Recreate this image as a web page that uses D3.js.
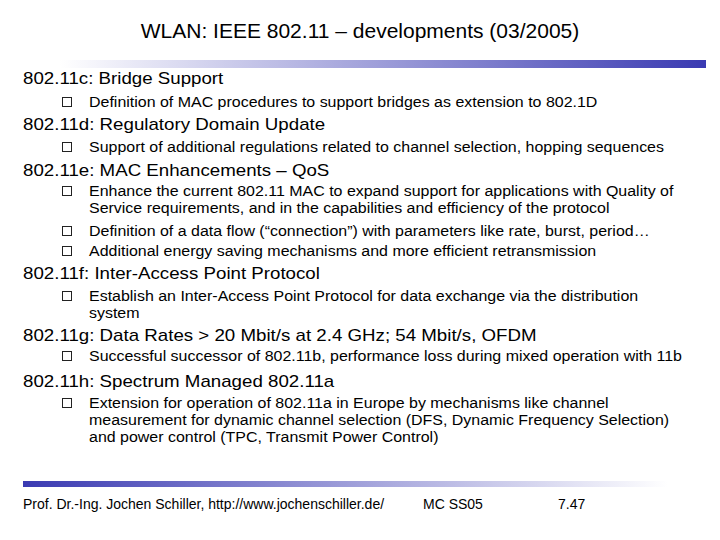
<!DOCTYPE html><html><head><meta charset="utf-8">
<script src="https://cdn.jsdelivr.net/npm/d3@7"></script>
<style>body{margin:0;background:#fff}text{font-family:"Liberation Sans",Arial,sans-serif;fill:#000}</style></head><body>
<script>
const title = "WLAN: IEEE 802.11 – developments (03/2005)";
const headings = ["802.11c: Bridge Support","802.11d: Regulatory Domain Update","802.11e: MAC Enhancements – QoS","802.11f: Inter-Access Point Protocol","802.11g: Data Rates > 20 Mbit/s at 2.4 GHz; 54 Mbit/s, OFDM","802.11h: Spectrum Managed 802.11a"];
const headingY = [84,130,176,279,341,387];
const bullets = [
 {lines:["Definition of MAC procedures to support bridges as extension to 802.1D"], y:107},
 {lines:["Support of additional regulations related to channel selection, hopping sequences"], y:152},
 {lines:["Enhance the current 802.11 MAC to expand support for applications with Quality of","Service requirements, and in the capabilities and efficiency of the protocol"], y:196},
 {lines:["Definition of a data flow (“connection”) with parameters like rate, burst, period…"], y:236},
 {lines:["Additional energy saving mechanisms and more efficient retransmission"], y:256},
 {lines:["Establish an Inter-Access Point Protocol for data exchange via the distribution","system"], y:301},
 {lines:["Successful successor of 802.11b, performance loss during mixed operation with 11b"], y:361},
 {lines:["Extension for operation of 802.11a in Europe by mechanisms like channel","measurement for dynamic channel selection (DFS, Dynamic Frequency Selection)","and power control (TPC, Transmit Power Control)"], y:408}
];
const footer = [["Prof. Dr.-Ing. Jochen Schiller, http://www.jochenschiller.de/",23],["MC SS05",423],["7.47",558]];

const svg = d3.select("body").append("svg").attr("width",720).attr("height",540);
const defs = svg.append("defs");
const g1 = defs.append("linearGradient").attr("id","gt");
g1.append("stop").attr("offset","0").attr("stop-color","#fff");
g1.append("stop").attr("offset","1").attr("stop-color","#3a3ab2");
const g2 = defs.append("linearGradient").attr("id","gb");
g2.append("stop").attr("offset","0").attr("stop-color","#3a3ab2");
g2.append("stop").attr("offset","1").attr("stop-color","#fff");
svg.append("rect").attr("x",60).attr("y",60).attr("width",646).attr("height",8).attr("fill","url(#gt)");
svg.append("rect").attr("x",23).attr("y",481).attr("width",645).attr("height",6).attr("fill","url(#gb)");

function stretch(sel,f){sel.each(function(){const w=this.getComputedTextLength();d3.select(this).attr("textLength",w*f).attr("lengthAdjust","spacingAndGlyphs");});}
stretch(svg.append("text").attr("x",360).attr("y",38).attr("text-anchor","middle").attr("font-size",21).text(title),1.0);
stretch(svg.selectAll(".h").data(headings).join("text").attr("x",23).attr("y",(d,i)=>headingY[i]).attr("font-size",17).text(d=>d),1.1);
const lh = 17;
bullets.forEach(b=>{
  svg.append("rect").attr("x",62.5).attr("y",b.y-9.5).attr("width",9).attr("height",9).attr("fill","none").attr("stroke","#222").attr("stroke-width",1);
  b.lines.forEach((l,j)=>stretch(svg.append("text").attr("x",89).attr("y",b.y+j*lh).attr("font-size",14).text(l),1.14));
});
svg.selectAll(".f").data(footer).join("text").attr("x",d=>d[1]).attr("y",509).attr("font-size",14).text(d=>d[0]);
</script></body></html>
